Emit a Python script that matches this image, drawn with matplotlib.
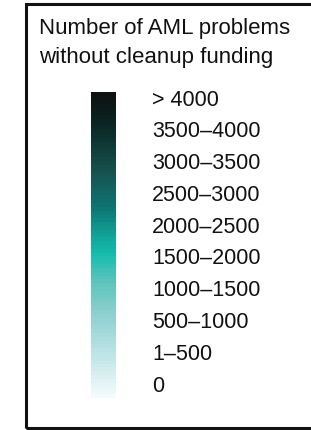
import matplotlib
matplotlib.use("Agg")
import matplotlib.pyplot as plt
import numpy as np
from matplotlib.colors import LinearSegmentedColormap
from matplotlib.patches import Rectangle

plt.rcParams['font.family'] = ['Liberation Sans', 'DejaVu Sans']

title_lines = ["Number of AML problems", "without cleanup funding"]
labels = ["> 4000", "3500\u20134000", "3000\u20133500", "2500\u20133000",
          "2000\u20132500", "1500\u20132000", "1000\u20131500", "500\u20131000",
          "1\u2013500", "0"]

# gradient stops, bottom (white) to top (near black)
stops = [0.0, 0.15, 0.27, 0.38, 0.47, 0.52, 0.62, 0.75, 0.9, 1.0]
stop_colors = ["#f4fbfc", "#b9e2e5", "#8fd0d0", "#5bc5bd", "#16bcad",
               "#12a99d", "#0e7674", "#17504d", "#0b2624", "#0e1211"]

W, H = 311, 430
fig = plt.figure(figsize=(W / 100, H / 100), dpi=100)

# frame (open on the right side)
fig.patches.append(Rectangle((26 / W, 1 - 428 / H), 300 / W, 424 / H,
                             transform=fig.transFigure, fill=False,
                             lw=2.2, edgecolor="#111111"))

for i, line in enumerate(title_lines):
    fig.text(39 / W, 1 - (34 + i * 29) / H, line, fontsize=16, ha="left",
             va="baseline", color="#111111")

cmap = LinearSegmentedColormap.from_list("aml", list(zip(stops, stop_colors)))
ax = fig.add_axes([91 / W, 1 - 398 / H, 25 / W, 306 / H])
grad = np.linspace(0, 1, 80).reshape(-1, 1)
ax.imshow(grad, cmap=cmap, aspect="auto", origin="lower",
          interpolation="nearest")
ax.axis("off")

y0, step = 100, 31.8
for i, lab in enumerate(labels):
    fig.text(152 / W, 1 - (y0 + i * step) / H, lab, fontsize=15.5,
             ha="left", va="center", color="#111111")

fig.savefig("out.png", dpi=100)
